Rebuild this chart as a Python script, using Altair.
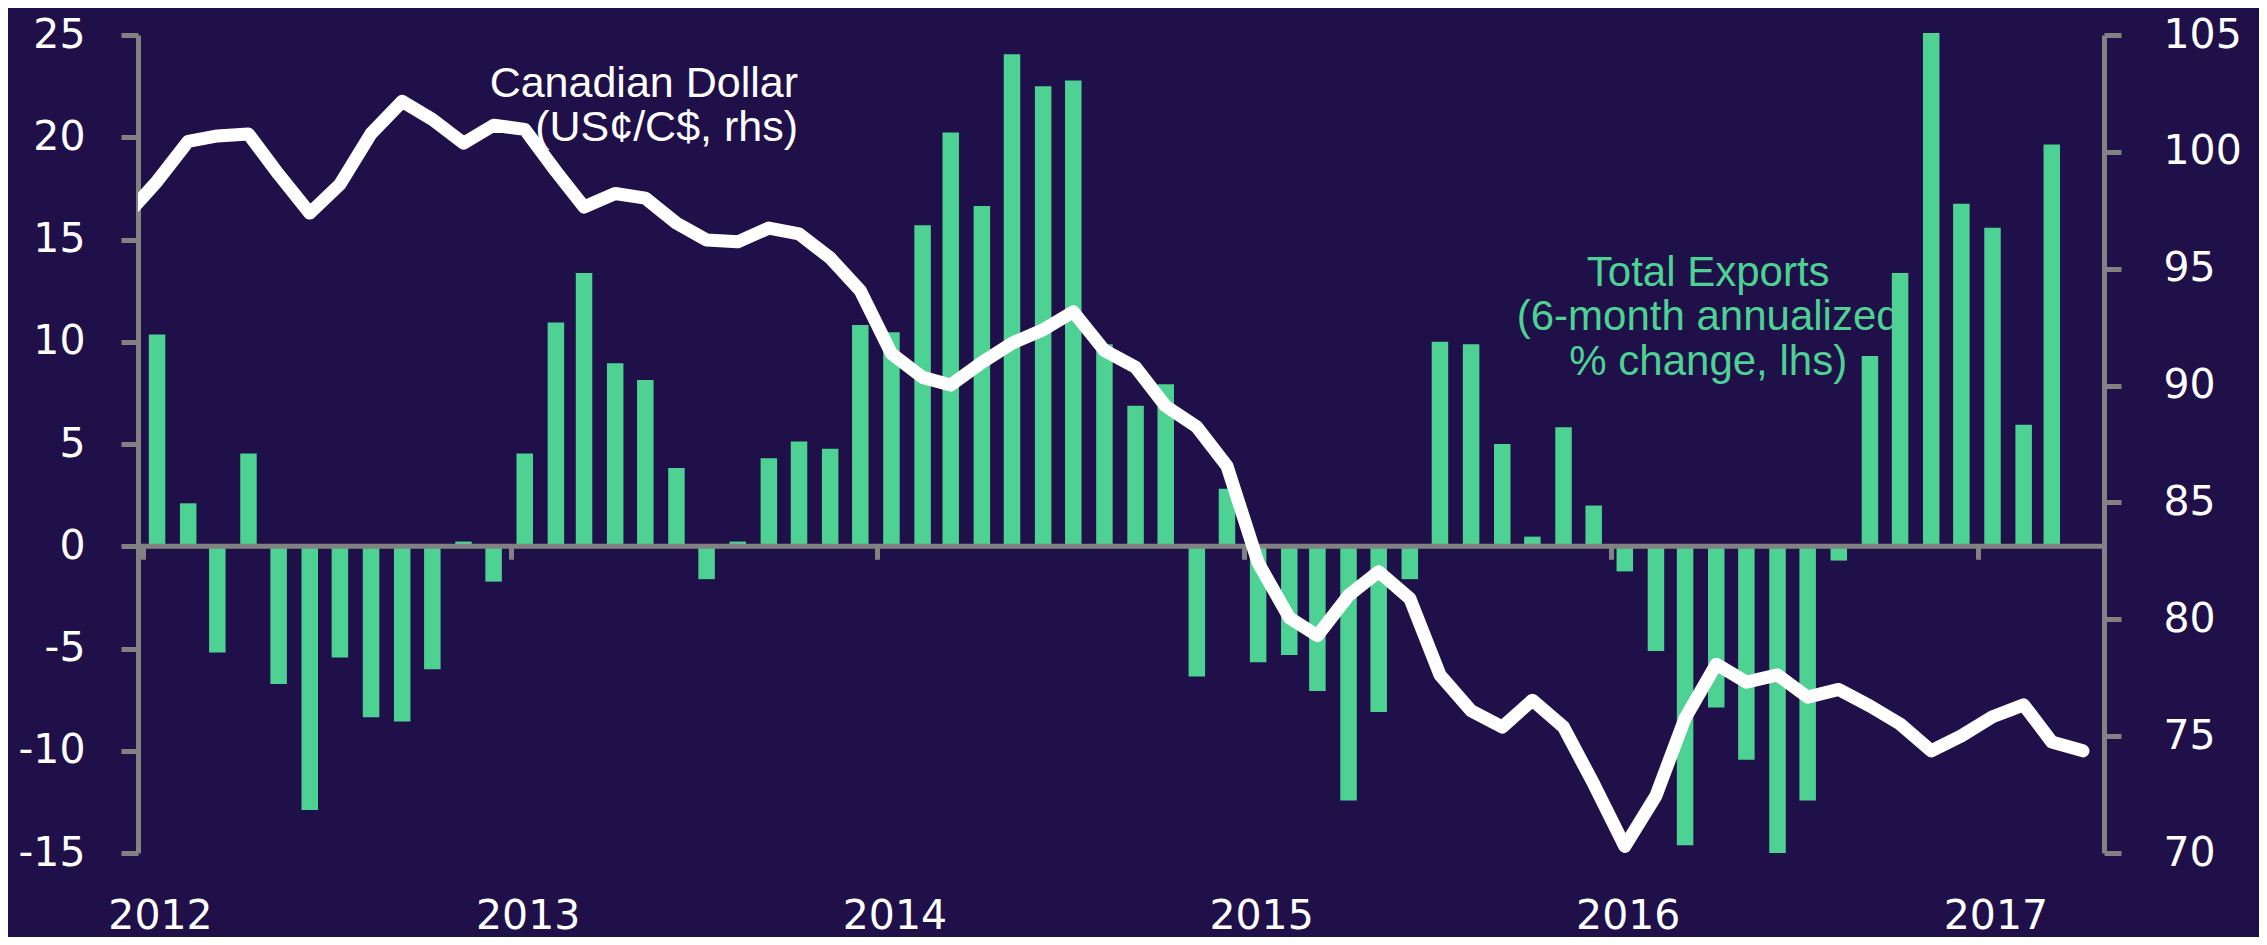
import altair as alt
import pandas as pd

BG = "#20104a"
GREEN = "#4dd293"
GRAY = "#828282"

# Monthly bars: Jan 2012 .. Mar 2017 (plotted mid-month)
bar_months = [d.strftime("%Y-%m-%d") for d in
              (pd.date_range("2012-01-01", periods=63, freq="MS") + pd.Timedelta(days=14))]
exports = [10.35, 2.1, -5.2, 4.53, -6.73, -12.9, -5.44, -8.36, -8.57, -6.02, 0.23, -1.73,
           4.53, 10.94, 13.36, 8.95, 8.13, 3.83, -1.61, 0.23, 4.30, 5.12, 4.77, 10.82,
           10.47, 15.70, 20.23, 16.64, 24.06, 22.49, 22.78, 9.88, 6.87, 7.92, -6.37, 2.81,
           -5.67, -5.32, -7.08, -12.43, -8.10, -1.61, 10.0, 9.88, 5.0, 0.47, 5.82, 1.99,
           -1.23, -5.12, -14.62, -7.89, -10.44, -15.0, -12.43, -0.70, 9.30, 13.36, 25.1, 16.75,
           15.58, 5.94, 19.65]

# Canadian dollar (US cents per C$): Dec 2011 .. Apr 2017 (mid-month)
line_months = [d.strftime("%Y-%m-%d") for d in
               (pd.date_range("2011-12-01", periods=65, freq="MS") + pd.Timedelta(days=14))]
cad = [97.25,
       98.74, 100.45, 100.68, 100.76, 99.04, 97.38, 98.61, 100.78, 102.16, 101.39, 100.37, 101.14,
       100.96, 99.17, 97.64, 98.22, 98.02, 96.95, 96.23, 96.15, 96.74, 96.49, 95.46, 94.06,
       91.37, 90.35, 90.02, 90.99, 91.81, 92.39, 93.16, 91.50, 90.78, 89.12, 88.23, 86.56,
       82.42, 80.07, 79.30, 81.02, 82.04, 80.89, 77.62, 76.09, 75.39, 76.54, 75.39, 72.96,
       70.28, 72.45, 75.77, 78.08, 77.31, 77.62, 76.67, 77.00, 76.29, 75.52, 74.37, 75.01,
       75.83, 76.34, 74.75, 74.37]

left_ticks = [-15, -10, -5, 0, 5, 10, 15, 20, 25]
right_ticks = [70, 75, 80, 85, 90, 95, 100, 105]

cad_label = ["Canadian Dollar\n(US¢/C$, rhs)"]
cad_label_pos = (["2013-10-14"], [21.95])
exp_label = ["Total Exports\n(6-month annualized\n% change, lhs)"]
exp_label_pos = (["2016-04-07"], [12.75])

bar_df = pd.DataFrame({"date": bar_months, "exports": exports})
line_df = pd.DataFrame({"date": line_months, "cad": cad})
zero_df = pd.DataFrame({"zero": [0]})
cad_ann = pd.DataFrame({"date": cad_label_pos[0], "val": cad_label_pos[1], "label": cad_label})
exp_ann = pd.DataFrame({"date": exp_label_pos[0], "val": exp_label_pos[1], "label": exp_label})

W, H = 1966, 818

x_scale = alt.Scale(type="utc", domain=[alt.DateTime(year=2012, month=1, date=1, utc=True),
                                        alt.DateTime(year=2017, month=5, date=1, utc=True)])
y_left = alt.Scale(domain=[-15, 25], nice=False, zero=False)
y_right = alt.Scale(domain=[70, 105], nice=False, zero=False)

year_step = {"interval": "year", "step": 1}

# axis at the zero line: year ticks only
x_zero_axis = alt.Axis(orient="bottom", offset=-(H * 15 / 40), domain=False,
                       ticks=True, tickColor=GRAY, tickWidth=5, tickSize=13,
                       labels=False, grid=False, title=None, tickCount=year_step)
# axis at the bottom: year labels only
x_label_axis = alt.Axis(orient="bottom", domain=False, ticks=False, tickSize=0,
                        labelPadding=43, labelOffset=17, labelFontSize=41,
                        labelColor="white", labelFont="DejaVu Sans", format="%Y",
                        labelFlush=False, grid=False, title=None, tickCount=year_step)
y_left_axis = alt.Axis(orient="left", values=left_ticks, domainColor=GRAY, domainWidth=5,
                       tickColor=GRAY, tickWidth=5, tickSize=17, labelPadding=36,
                       labelFontSize=41, labelColor="white", labelFont="DejaVu Sans",
                       labelExpr="'' + datum.value", grid=False, title=None)
y_right_axis = alt.Axis(orient="right", values=right_ticks, domainColor=GRAY, domainWidth=5,
                        tickColor=GRAY, tickWidth=5, tickSize=17, labelPadding=42,
                        labelFontSize=41, labelColor="white", labelFont="DejaVu Sans",
                        grid=False, title=None)

t_cad = alt.Chart(cad_ann).mark_text(
    align="right", baseline="alphabetic", font="Liberation Sans", fontSize=43,
    color="white", lineBreak="\n", lineHeight=44
).encode(
    x=alt.X("date:T", scale=x_scale, axis=x_zero_axis),
    y=alt.Y("val:Q", scale=y_left, axis=y_left_axis),
    text="label:N",
)

t_exp = alt.Chart(exp_ann).mark_text(
    align="center", baseline="alphabetic", font="Liberation Sans", fontSize=42,
    color=GREEN, lineBreak="\n", lineHeight=44.5
).encode(
    x=alt.X("date:T", scale=x_scale, axis=x_zero_axis),
    y=alt.Y("val:Q", scale=y_left, axis=y_left_axis),
    text="label:N",
)

bars = alt.Chart(bar_df).mark_bar(size=16.5, color=GREEN).encode(
    x=alt.X("date:T", scale=x_scale, axis=x_zero_axis),
    y=alt.Y("exports:Q", scale=y_left, axis=y_left_axis),
)

zero = alt.Chart(zero_df).mark_rule(color=GRAY, strokeWidth=5).encode(
    y=alt.Y("zero:Q", scale=y_left, axis=y_left_axis)
)

line = alt.Chart(line_df).mark_line(
    color="white", strokeWidth=13, clip=True, strokeJoin="round", strokeCap="round"
).encode(
    x=alt.X("date:T", scale=x_scale, axis=x_label_axis),
    y=alt.Y("cad:Q", scale=y_right, axis=y_right_axis),
)

left_group = alt.layer(t_cad, t_exp, bars, zero)

chart = alt.layer(left_group, line).resolve_scale(
    y="independent"
).resolve_axis(
    x="independent", y="independent"
).properties(
    width=W, height=H,
    padding={"left": 130, "top": 27, "right": 155, "bottom": 84},
    autosize=alt.AutoSizeParams(type="none"),
).configure(
    background=BG
).configure_view(
    stroke=None
)

chart.save("out.html", embed_options={"renderer": "svg", "actions": False})
